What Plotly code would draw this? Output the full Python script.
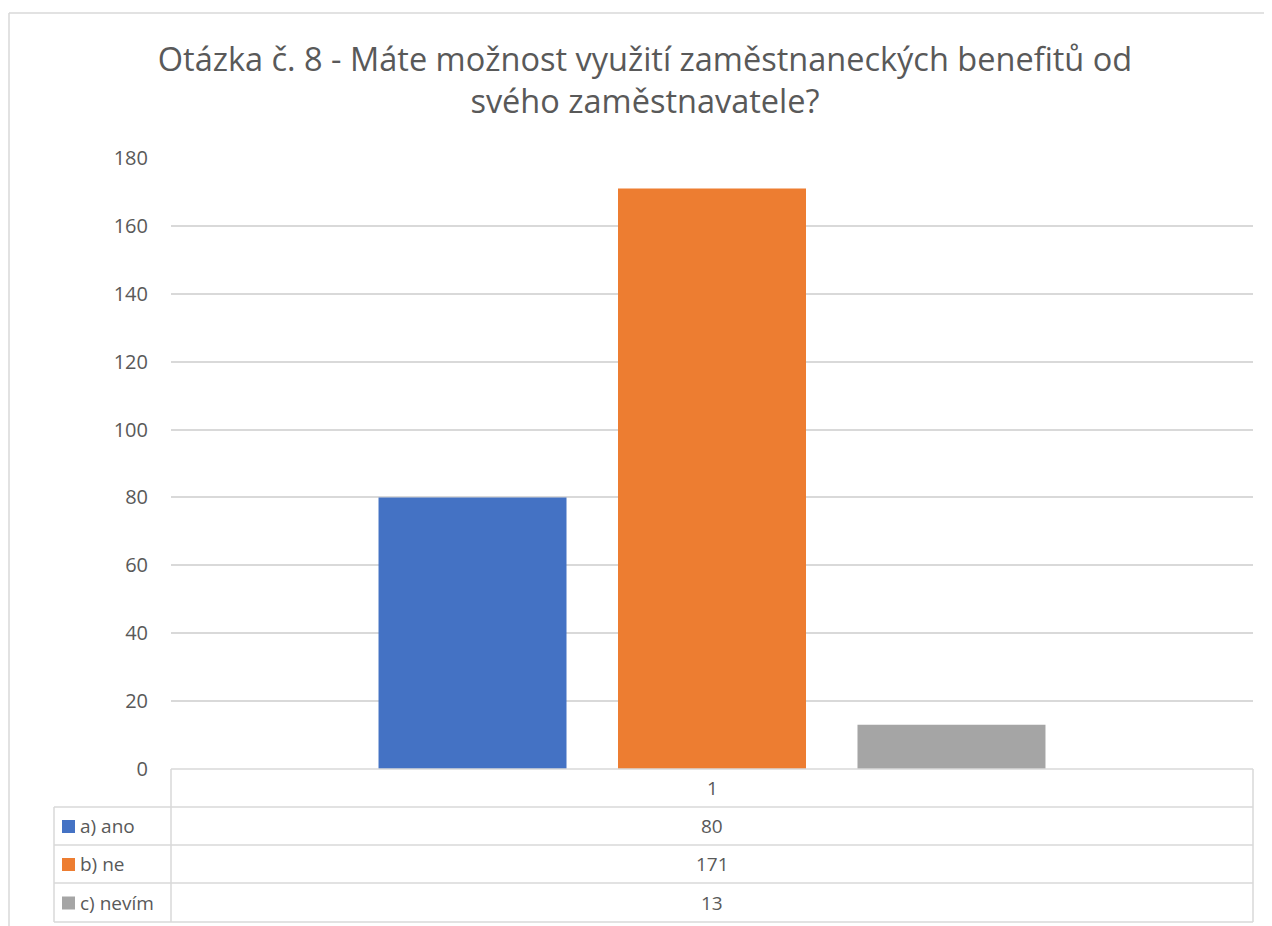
import plotly.graph_objects as go

# data
title_text = "Otázka č. 8 - Máte možnost využití zaměstnaneckých benefitů od<br>svého zaměstnavatele?"
category = ["1"]
series_names = ["a) ano", "b) ne", "c) nevím"]
series_values = [80, 171, 13]
series_colors = ["#4472C4", "#ED7D31", "#A5A5A5"]
y_ticks = [0, 20, 40, 60, 80, 100, 120, 140, 160, 180]

# page has an 8px body margin, so figure pixels = screen pixels - 8
W, H = 1264, 918
PL, PR, PT, PB = 163, 1245, 150, 761  # plot area in figure pixels
GRID = "#d9d9d9"
TXT = "#595959"
FONT = "Open Sans"


def px(x):
    return (x - PL) / (PR - PL)


def py(y):
    return (PB - y) / (PB - PT)


fig = go.Figure()
for name, val, col in zip(series_names, series_values, series_colors):
    fig.add_trace(go.Bar(
        x=category, y=[val], name=name,
        marker=dict(color=col, line=dict(width=0)),
    ))

fig.update_layout(
    width=W, height=H,
    margin=dict(l=PL, r=W - PR, t=PT, b=H - PB),
    plot_bgcolor="white", paper_bgcolor="white",
    barmode="group", bargap=0.336, bargroupgap=0.215,
    showlegend=False,
    font=dict(family=FONT, color=TXT),
    title=dict(
        text=title_text, x=637 / W, xanchor="center",
        y=1 - 63 / H, yanchor="top", yref="container",
        font=dict(size=32.5, color=TXT, family=FONT),
    ),
)
fig.update_yaxes(
    range=[0, 180], tickvals=y_ticks, showgrid=True, gridcolor=GRID, gridwidth=1.5,
    zeroline=False, showline=False, ticks="", tickfont=dict(size=20, color=TXT),
    ticklabelstandoff=22,
)
fig.update_xaxes(showticklabels=False, showline=False, ticks="", showgrid=False)

# data table below the plot
row_y = [761, 799, 837, 875, 914]
line = dict(color=GRID, width=1.5)
shapes = []
# horizontal lines
shapes.append(dict(type="line", xref="paper", yref="paper", x0=0, x1=1, y0=py(row_y[0]), y1=py(row_y[0]), line=line))
for yy in row_y[1:]:
    shapes.append(dict(type="line", xref="paper", yref="paper", x0=px(46), x1=1, y0=py(yy), y1=py(yy), line=line))
# vertical lines
shapes.append(dict(type="line", xref="paper", yref="paper", x0=0, x1=0, y0=py(row_y[0]), y1=py(row_y[-1]), line=line))
shapes.append(dict(type="line", xref="paper", yref="paper", x0=1, x1=1, y0=py(row_y[0]), y1=py(row_y[-1]), line=line))
shapes.append(dict(type="line", xref="paper", yref="paper", x0=px(46), x1=px(46), y0=py(row_y[1]), y1=py(row_y[-1]), line=line))
# outer chart border (top and left)
shapes.append(dict(type="line", xref="paper", yref="paper", x0=px(1), x1=px(W + 5), y0=py(5), y1=py(5), line=line))
shapes.append(dict(type="line", xref="paper", yref="paper", x0=px(1), x1=px(1), y0=py(5), y1=py(H + 5), line=line))

annotations = [dict(text=category[0], xref="paper", yref="paper", x=0.5, y=py((row_y[0] + row_y[1]) / 2),
                    xanchor="center", yanchor="middle", showarrow=False, font=dict(size=19, color=TXT))]
for i, (name, val, col) in enumerate(zip(series_names, series_values, series_colors)):
    yc = (row_y[i + 1] + row_y[i + 2]) / 2
    shapes.append(dict(type="rect", xref="paper", yref="paper", x0=px(54), x1=px(67),
                       y0=py(yc - 6), y1=py(yc + 7), fillcolor=col, line=dict(width=0)))
    annotations.append(dict(text=name, xref="paper", yref="paper", x=px(70), y=py(yc),
                            xanchor="left", yanchor="middle",
                            showarrow=False, font=dict(size=19, color=TXT)))
    annotations.append(dict(text=str(val), xref="paper", yref="paper", x=0.5, y=py(yc),
                            xanchor="center", yanchor="middle",
                            showarrow=False, font=dict(size=19, color=TXT)))

fig.update_layout(shapes=shapes, annotations=annotations)

fig.write_html("out.html")
